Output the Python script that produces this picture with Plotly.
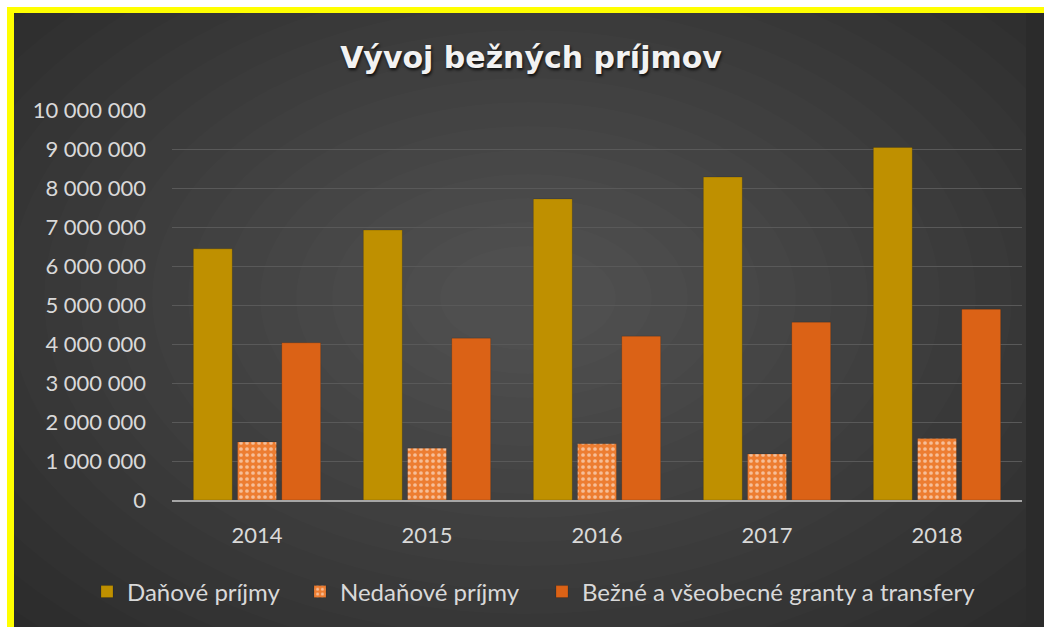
import plotly.express as px
import plotly.graph_objects as go
import pandas as pd


def create_revenue_chart(data):
    """
    Create a grouped bar chart showing current revenues by year

    Args:
        data (DataFrame): Revenue data in long format (year, category, value)

    Returns:
        Figure: Plotly figure object with the chart
    """
    # Figure geometry in pixels
    width, height = 1044, 627
    left, right, top, bottom = 172, 22, 110, 127
    plot_w = width - left - right
    plot_h = height - top - bottom

    def px_x(value):
        return (value - left) / plot_w

    def px_y(value):
        return (height - bottom - value) / plot_h

    fig = px.bar(
        data,
        x='year',
        y='value',
        color='category',
        barmode='group',
        color_discrete_map={
            'Daňové príjmy': '#BF9000',
            'Nedaňové príjmy': '#ED7D31',
            'Bežné a všeobecné granty a transfery': '#DB6216'
        }
    )

    fig.update_traces(marker_line=dict(color='rgba(0,0,0,0.25)', width=0.6))
    fig.update_traces(
        selector=dict(name='Nedaňové príjmy'),
        marker_pattern=dict(shape='.', fgcolor='white', size=6, solidity=0.3),
        legend='legend2'
    )
    fig.update_traces(
        selector=dict(name='Bežné a všeobecné granty a transfery'),
        legend='legend3'
    )

    # Soft radial glow in the middle of the dark background
    glow = []
    for i in range(18):
        rx = 700 - i * 36
        ry = 460 - i * 24
        glow.append(dict(
            type='circle', xref='paper', yref='paper', layer='below',
            x0=px_x(528 - rx), x1=px_x(528 + rx),
            y0=px_y(298 + ry), y1=px_y(298 - ry),
            fillcolor='rgba(255,255,255,0.011)', line=dict(width=0)
        ))

    # Yellow frame on top and left side, white outside of it, dark on the right
    frame = [
        dict(x0=1026, x1=width, y0=13, y1=height, fillcolor='#2B2B2B'),
        dict(x0=0, x1=width, y0=0, y1=7, fillcolor='white'),
        dict(x0=0, x1=7, y0=0, y1=height, fillcolor='white'),
        dict(x0=7, x1=width, y0=7, y1=13, fillcolor='#FFFF00'),
        dict(x0=7, x1=14, y0=7, y1=height, fillcolor='#FFFF00'),
    ]
    for shape in frame:
        shape.update(
            type='rect', xref='paper', yref='paper', layer='above', line=dict(width=0),
            x0=px_x(shape['x0']), x1=px_x(shape['x1']),
            y0=px_y(shape['y0']), y1=px_y(shape['y1'])
        )

    # One legend box per series, placed like the original
    legend_style = dict(
        orientation='h',
        xanchor='left',
        y=px_y(592),
        yanchor='middle',
        bgcolor='rgba(0,0,0,0)',
        font=dict(size=24, color='#D9D9D9'),
        itemwidth=30
    )

    # Update layout
    fig.update_layout(
        width=width,
        height=height,
        margin=dict(l=left, r=right, t=top, b=bottom),
        paper_bgcolor='#2B2B2B',
        plot_bgcolor='rgba(0,0,0,0)',
        font=dict(family='Lato', size=22, color='#D9D9D9'),
        separators='. ',
        bargap=0.22,
        bargroupgap=0.12,
        title=dict(
            text='<b>Vývoj bežných príjmov</b>',
            x=531 / width,
            xanchor='center',
            y=1 - 57 / height,
            yanchor='middle',
            font=dict(family='DejaVu Sans', size=30, color='#F2F2F2',
                      shadow='1px 2px 3px rgba(0,0,0,0.8)')
        ),
        xaxis=dict(
            title=None,
            showgrid=False,
            showline=True,
            linecolor='#A6A6A6',
            linewidth=2,
            ticklabelstandoff=15,
            tickfont=dict(size=22)
        ),
        yaxis=dict(
            title=None,
            range=[0, 10000000],
            dtick=1000000,
            tickformat=',d',
            gridcolor='#595959',
            gridwidth=1,
            zeroline=False,
            ticklabelstandoff=25,
            tickfont=dict(size=22)
        ),
        legend=dict(legend_style, title=None, x=px_x(87)),
        legend2=dict(legend_style, x=px_x(300)),
        legend3=dict(legend_style, x=px_x(542)),
        shapes=glow + frame
    )

    return fig


revenue = pd.DataFrame({
    'year': ['2014', '2015', '2016', '2017', '2018'],
    'Daňové príjmy': [6440000, 6920000, 7720000, 8280000, 9040000],
    'Nedaňové príjmy': [1490000, 1330000, 1440000, 1180000, 1580000],
    'Bežné a všeobecné granty a transfery': [4030000, 4150000, 4200000, 4560000, 4890000]
})
long_data = revenue.melt(id_vars='year', var_name='category', value_name='value')

fig = create_revenue_chart(long_data)
fig.write_html(
    "out.html",
    config={'displayModeBar': False},
    post_script="document.body.style.margin='0'; document.body.style.overflow='hidden';"
)
